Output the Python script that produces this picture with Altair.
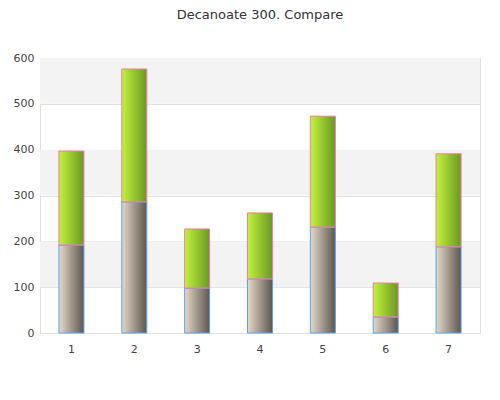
import altair as alt
import pandas as pd

categories = ["1", "2", "3", "4", "5", "6", "7"]
series_a = [192, 286, 98, 118, 231, 35, 188]
series_b = [205, 290, 129, 144, 242, 74, 203]
band_lo = [100, 300, 500]
band_hi = [200, 400, 600]

df = pd.DataFrame({"cat": categories, "a": series_a, "b": series_b})
df["total"] = df["a"] + df["b"]
bands = pd.DataFrame({"lo": band_lo, "hi": band_hi})

yscale = alt.Scale(domain=[0, 600])
xenc = alt.X("cat:O", sort=categories, title=None,
             axis=alt.Axis(labelAngle=0, ticks=False, domain=False, labelPadding=10,
                           labelFontSize=11, labelColor="#444", labelFont="DejaVu Sans"))

band_layer = alt.Chart(bands).mark_rect(color="#f3f3f3").encode(
    y=alt.Y("lo:Q", scale=yscale, title=None,
            axis=alt.Axis(values=[0, 100, 200, 300, 400, 500, 600], ticks=False, domain=False,
                          labelPadding=6, gridColor="#e0e0e0", labelFontSize=11,
                          labelColor="#444", labelFont="DejaVu Sans")),
    y2="hi:Q",
)

grad_a = alt.Gradient(gradient="linear", x1=0, x2=1, y1=0, y2=0,
                      stops=[alt.GradientStop(color="#e4d8c8", offset=0),
                             alt.GradientStop(color="#5e574f", offset=1)])
grad_b = alt.Gradient(gradient="linear", x1=0, x2=1, y1=0, y2=0,
                      stops=[alt.GradientStop(color="#c2f23c", offset=0),
                             alt.GradientStop(color="#6a9822", offset=1)])

lower = alt.Chart(df).mark_bar(color=grad_a, stroke="#5aa2f0", strokeWidth=1, size=25).encode(
    x=xenc, y=alt.Y("a:Q", scale=yscale), y2=alt.Y2(datum=0)
)
upper = alt.Chart(df).mark_bar(color=grad_b, stroke="#f07ab4", strokeWidth=1, size=25).encode(
    x=xenc, y=alt.Y("total:Q", scale=yscale), y2="a:Q"
)

chart = alt.layer(band_layer, lower, upper).properties(
    width=440, height=275,
    title=alt.TitleParams("Decanoate 300. Compare", fontSize=13, fontWeight="normal",
                          color="#333", font="DejaVu Sans", offset=30),
    autosize=alt.AutoSizeParams(type="none"),
    padding={"left": 32, "top": 50, "right": 12, "bottom": 59},
).configure_view(stroke="#cccccc").configure(background="white")

chart.save("out.html", embed_options={"renderer": "svg", "actions": False})
